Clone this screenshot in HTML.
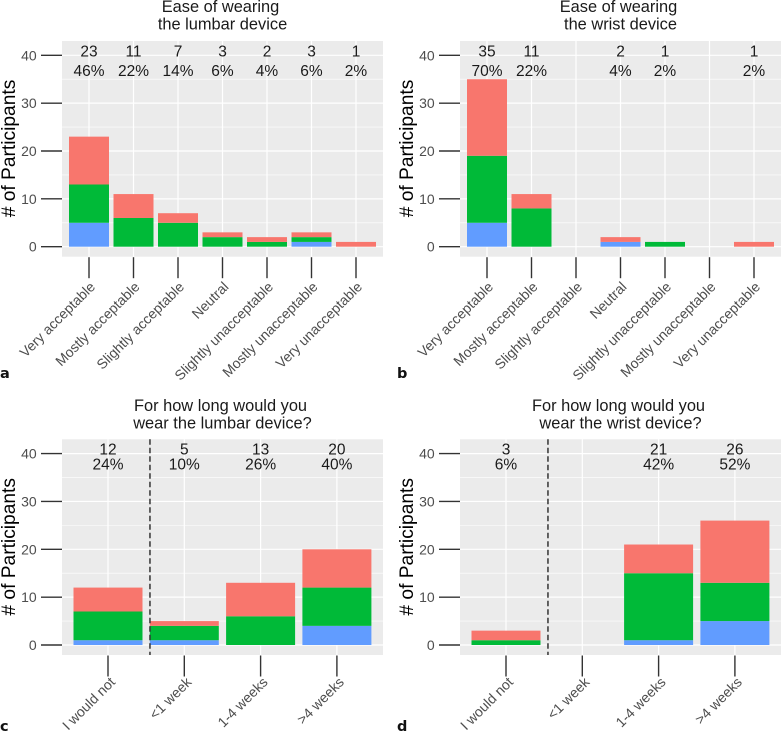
<!DOCTYPE html>
<html lang="en">
<head>
<meta charset="utf-8">
<title>Device wearability survey charts</title>
<style>
html,body{margin:0;padding:0;background:#fff;width:781px;height:733px;overflow:hidden}
svg{display:block}
text{font-family:"Liberation Sans",Arial,sans-serif}
</style>
</head>
<body>
<svg id="figure" xmlns="http://www.w3.org/2000/svg" width="781" height="733" viewBox="0 0 781 733"></svg>
<script>
const easeCategories = ["Very acceptable","Mostly acceptable","Slightly acceptable","Neutral","Slightly unacceptable","Mostly unacceptable","Very unacceptable"];
const durationCategories = ["I would not","<1 week","1-4 weeks",">4 weeks"];
const yTicks = [0,10,20,30,40];
const yMinorTicks = [5,15,25,35];

const lumbarEaseBlue = [5,0,0,0,0,1,0];
const lumbarEaseGreen = [8,6,5,2,1,1,0];
const lumbarEaseRed = [10,5,2,1,1,1,1];
const lumbarEaseCounts = ["23","11","7","3","2","3","1"];
const lumbarEasePercents = ["46%","22%","14%","6%","4%","6%","2%"];

const wristEaseBlue = [5,0,0,1,0,0,0];
const wristEaseGreen = [14,8,0,0,1,0,0];
const wristEaseRed = [16,3,0,1,0,0,1];
const wristEaseCounts = ["35","11","","2","1","","1"];
const wristEasePercents = ["70%","22%","","4%","2%","","2%"];

const lumbarLongBlue = [1,1,0,4];
const lumbarLongGreen = [6,3,6,8];
const lumbarLongRed = [5,1,7,8];
const lumbarLongCounts = ["12","5","13","20"];
const lumbarLongPercents = ["24%","10%","26%","40%"];

const wristLongBlue = [0,0,1,5];
const wristLongGreen = [1,0,14,8];
const wristLongRed = [2,0,6,13];
const wristLongCounts = ["3","","21","26"];
const wristLongPercents = ["6%","","42%","52%"];

const NS = "http://www.w3.org/2000/svg";
const fig = document.getElementById("figure");

function node(tag, attrs, parent, txt) {
  const el = document.createElementNS(NS, tag);
  for (const k in attrs) el.setAttribute(k, attrs[k]);
  if (txt !== undefined) el.textContent = txt;
  parent.appendChild(el);
  return el;
}

function drawPanel(p) {
  const g = node("g", {}, fig);
  
  

  const L = p.dx + 62, R = p.dx + 383, T = p.dy + 41, B = p.dy + 256.7;
  const n = p.categories.length;
  const step = p.step;
  const x0 = p.dx + p.first;
  const xScale = i => x0 + i * step;
  const yScale = v => p.dy + 246.7 - v * 4.785;

  const bg = node("rect", {x:L, y:T, width:R-L, height:B-T, fill:"#ebebeb"}, g);
  
  

  yMinorTicks.forEach(v => {
    const line = node("line", {x1:L, x2:R, y1:yScale(v), y2:yScale(v), stroke:"#fff", "stroke-width":0.6}, g);
    
    
  });
  yTicks.forEach(v => {
    const line = node("line", {x1:L, x2:R, y1:yScale(v), y2:yScale(v), stroke:"#fff", "stroke-width":1.2}, g);
    
    
    const tick = node("line", {x1:p.dx+41, x2:L, y1:yScale(v), y2:yScale(v), stroke:"#333", "stroke-width":1.4}, g);
    
    
    const label = node("text", {x:p.dx+36.7, y:yScale(v)+5, "text-anchor":"end", "font-size":14, fill:"#4d4d4d"}, g, String(v));
    
    
  });

  for (let i = 0; i < n; i++) {
    const cx = xScale(i);
    const grid = node("line", {x1:cx, x2:cx, y1:T, y2:B, stroke:"#fff", "stroke-width":1.2}, g);
    
    
    const tick = node("line", {x1:cx, x2:cx, y1:B+0.5, y2:B+21.5, stroke:"#333", "stroke-width":1.4}, g);
    
    
    const lx = cx + p.labelDx, ly = B + p.labelGap;
    const label = node("text", {x:lx, y:ly, "text-anchor":"end", "font-size":14, fill:"#4d4d4d", transform:"rotate(-45 "+lx+" "+ly+")"}, g, p.categories[i]);
    
    
  }

  for (let i = 0; i < n; i++) {
    let base = 0;
    [[p.blue,"#619CFF","blue"],[p.green,"#00BA38","green"],[p.red,"#F8766D","red"]].forEach(s => {
      const v = s[0][i];
      if (v > 0) {
        const top = yScale(base + v), bottom = yScale(base);
        const bar = node("rect", {x:xScale(i)-p.barWidth/2, y:top, width:p.barWidth, height:bottom-top, fill:s[1]}, g);
        
        
      }
      base += v;
    });
    if (p.counts[i]) {
      const c = node("text", {x:xScale(i), y:p.dy+p.countY, "text-anchor":"middle", "font-size":15.5, fill:"#1a1a1a"}, g, p.counts[i]);
      
      
      const t = node("text", {x:xScale(i), y:p.dy+p.percentY, "text-anchor":"middle", "font-size":15.5, fill:"#1a1a1a"}, g, p.percents[i]);
      
      
    }
  }

  if (p.cut !== undefined) {
    const cutX = xScale(p.cut);
    const dash = node("line", {x1:cutX, x2:cutX, y1:T, y2:B, stroke:"#333", "stroke-width":1.5, "stroke-dasharray":"5.5 3"}, g);
    
    
  }

  const title1 = node("text", {x:(L+R)/2-2, y:p.dy+p.titleY[0], "text-anchor":"middle", "font-size":16.4, fill:"#1a1a1a"}, g, p.title[0]);
  
  
  const title2 = node("text", {x:(L+R)/2, y:p.dy+p.titleY[1], "text-anchor":"middle", "font-size":16.4, fill:"#1a1a1a"}, g, p.title[1]);
  
  

  const ax = p.dx + 15, ay = p.dy + 148.5;
  const yTitle = node("text", {x:ax, y:ay, "text-anchor":"middle", "font-size":19.2, fill:"#000", transform:"rotate(-90 "+ax+" "+ay+")"}, g, "# of Participants");
  
  

  const tag = node("text", {x:p.dx+p.tagX, y:p.tagY, "font-size":14.5, "font-weight":"bold", fill:"#111", style:'font-family:"DejaVu Sans",sans-serif'}, g, p.id);
  
  
}

const easeLayout = {step:44.5, first:89, barWidth:40, countY:56.5, percentY:76, titleY:[12,29.5], labelGap:31, labelDx:7};
const longLayout = {step:76.3, first:108, barWidth:69, countY:56, percentY:71, titleY:[12.5,30], labelGap:28, labelDx:8, cut:0.55};

drawPanel(Object.assign({}, easeLayout, {id:"a", dx:0, dy:0, tagX:0, tagY:378,
  categories:easeCategories, blue:lumbarEaseBlue, green:lumbarEaseGreen, red:lumbarEaseRed,
  counts:lumbarEaseCounts, percents:lumbarEasePercents, title:["Ease of wearing","the lumbar device"]}));
drawPanel(Object.assign({}, easeLayout, {id:"b", dx:398, dy:0, tagX:-1, tagY:378,
  categories:easeCategories, blue:wristEaseBlue, green:wristEaseGreen, red:wristEaseRed,
  counts:wristEaseCounts, percents:wristEasePercents, title:["Ease of wearing","the wrist device"]}));
drawPanel(Object.assign({}, longLayout, {id:"c", dx:0, dy:398.3, tagX:0, tagY:731,
  categories:durationCategories, blue:lumbarLongBlue, green:lumbarLongGreen, red:lumbarLongRed,
  counts:lumbarLongCounts, percents:lumbarLongPercents, title:["For how long would you","wear the lumbar device?"]}));
drawPanel(Object.assign({}, longLayout, {id:"d", dx:398, dy:398.3, tagX:-1, tagY:731,
  categories:durationCategories, blue:wristLongBlue, green:wristLongGreen, red:wristLongRed,
  counts:wristLongCounts, percents:wristLongPercents, title:["For how long would you","wear the wrist device?"]}));
</script>
</body>
</html>
